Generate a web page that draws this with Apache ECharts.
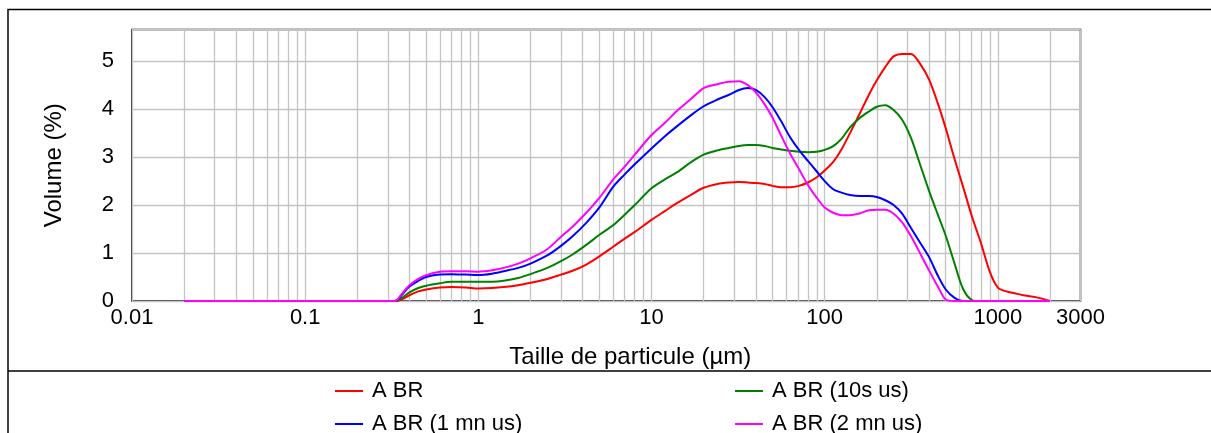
<!DOCTYPE html>
<html>
<head>
<meta charset="utf-8">
<script src="https://cdn.jsdelivr.net/npm/echarts@6/dist/echarts.min.js"></script>
<style>
html,body{margin:0;padding:0;background:#fff;}
#chart{width:1211px;height:433px;}
</style>
</head>
<body>
<div id="chart"></div>
<script>
// Particle sizes (µm)
const sizes = [0.02, 0.33, 0.36, 0.4, 0.45, 0.5, 0.6, 0.7, 0.85, 1.0, 1.2, 1.4, 1.7, 2.0, 2.5, 3.0, 3.5, 4.2, 5.0, 6.0, 7.0, 8.0, 10, 12, 14, 17, 20, 24, 28, 32, 36, 40, 45, 50, 56, 63, 71, 80, 90, 100, 112, 125, 140, 160, 180, 200, 224, 250, 280, 315, 355, 400, 450, 500, 560, 630, 710, 800, 900, 1000, 1120, 1250, 1400, 1600, 1800, 2000];

const seriesNames = ['A BR', 'A BR (10s us)', 'A BR (1 mn us)', 'A BR (2 mn us)'];

const volA_BR = [0, 0, 0.03, 0.12, 0.20, 0.24, 0.28, 0.29, 0.28, 0.26, 0.27, 0.29, 0.33, 0.38, 0.46, 0.55, 0.63, 0.76, 0.93, 1.13, 1.30, 1.44, 1.69, 1.88, 2.04, 2.22, 2.36, 2.44, 2.47, 2.48, 2.47, 2.46, 2.44, 2.40, 2.37, 2.37, 2.40, 2.47, 2.58, 2.72, 2.90, 3.16, 3.50, 3.92, 4.30, 4.60, 4.88, 5.10, 5.15, 5.15, 4.95, 4.62, 4.12, 3.60, 2.98, 2.38, 1.75, 1.20, 0.60, 0.28, 0.20, 0.16, 0.12, 0.09, 0.05, 0];

const volA_BR_10s = [0, 0, 0.06, 0.18, 0.27, 0.32, 0.37, 0.40, 0.40, 0.40, 0.40, 0.42, 0.48, 0.56, 0.69, 0.83, 0.97, 1.17, 1.38, 1.58, 1.80, 2.00, 2.35, 2.54, 2.68, 2.90, 3.05, 3.14, 3.19, 3.23, 3.25, 3.25, 3.23, 3.19, 3.16, 3.13, 3.11, 3.10, 3.11, 3.15, 3.23, 3.38, 3.62, 3.82, 3.95, 4.05, 4.08, 3.98, 3.78, 3.40, 2.85, 2.30, 1.80, 1.36, 0.80, 0.25, 0.02, 0, 0, 0, 0, 0, 0, 0, 0, 0];

const volA_BR_1mn = [0, 0, 0.12, 0.30, 0.42, 0.50, 0.55, 0.56, 0.55, 0.54, 0.57, 0.62, 0.69, 0.78, 0.95, 1.15, 1.35, 1.63, 1.95, 2.38, 2.64, 2.85, 3.18, 3.44, 3.64, 3.88, 4.06, 4.20, 4.30, 4.40, 4.44, 4.40, 4.25, 4.04, 3.75, 3.42, 3.15, 2.92, 2.70, 2.50, 2.33, 2.26, 2.21, 2.19, 2.19, 2.17, 2.10, 2.00, 1.82, 1.52, 1.22, 0.92, 0.53, 0.24, 0.07, 0, 0, 0, 0, 0, 0, 0, 0, 0, 0, 0];

const volA_BR_2mn = [0, 0, 0.14, 0.33, 0.46, 0.54, 0.61, 0.62, 0.62, 0.61, 0.64, 0.69, 0.78, 0.89, 1.08, 1.34, 1.55, 1.84, 2.15, 2.53, 2.80, 3.05, 3.46, 3.72, 3.96, 4.22, 4.44, 4.52, 4.57, 4.58, 4.50, 4.35, 4.10, 3.82, 3.45, 3.08, 2.75, 2.42, 2.15, 1.95, 1.84, 1.79, 1.79, 1.83, 1.89, 1.90, 1.90, 1.82, 1.64, 1.35, 1.00, 0.64, 0.30, 0.03, 0, 0, 0, 0, 0, 0, 0, 0, 0, 0, 0, 0];

const xLabelTicks = [0.01, 0.1, 1, 10, 100, 1000, 3000];
const xGridTicks = [0.01, 0.02, 0.03, 0.04, 0.05, 0.06, 0.07, 0.08, 0.09,
  0.1, 0.2, 0.3, 0.4, 0.5, 0.6, 0.7, 0.8, 0.9,
  1, 2, 3, 4, 5, 6, 7, 8, 9,
  10, 20, 30, 40, 50, 60, 70, 80, 90,
  100, 200, 300, 400, 500, 600, 700, 800, 900,
  1000, 2000, 3000];
const yTicks = [0, 1, 2, 3, 4, 5];

const colors = ['#ff0000', '#008000', '#0000ff', '#ff00ff'];
const allValues = [volA_BR, volA_BR_10s, volA_BR_1mn, volA_BR_2mn];

const FONT = 'Liberation Sans, Arial, sans-serif';
const FS = 22;

const chart = echarts.init(document.getElementById('chart'), null, {renderer: 'canvas'});

const series = seriesNames.map((name, i) => ({
  name: name,
  type: 'line',
  data: sizes.map((s, k) => [s, allValues[i][k]]),
  showSymbol: false,
  symbol: 'none',
  smooth: 0.3,
  lineStyle: {color: colors[i], width: 2},
  itemStyle: {color: colors[i]},
  emphasis: {disabled: true},
  animation: false
}));

const legendCommon = {
  orient: 'vertical',
  top: 380,
  height: 120,
  padding: 0,
  itemWidth: 28,
  itemHeight: 2,
  itemGap: 11,
  icon: 'rect',
  selectedMode: false,
  textStyle: {fontFamily: FONT, fontSize: FS, color: '#000', lineHeight: 22, padding: [0, 0, 0, 4]}
};

chart.setOption({
  animation: false,
  backgroundColor: '#fff',
  color: colors,
  graphic: [
    {type: 'rect', shape: {x: 8, y: 9.5, width: 1300, height: 500}, style: {fill: 'none', stroke: '#000', lineWidth: 1.5}, silent: true},
    {type: 'line', shape: {x1: 8, y1: 371, x2: 1300, y2: 371}, style: {stroke: '#000', lineWidth: 1.5}, silent: true}
  ],
  grid: {
    left: 132, right: 130.5, top: 29.5, bottom: 132,
    show: true, borderColor: '#000', borderWidth: 1.5, backgroundColor: 'transparent'
  },
  legend: [
    Object.assign({left: 335, data: [seriesNames[0], seriesNames[2]]}, legendCommon),
    Object.assign({left: 735, data: [seriesNames[1], seriesNames[3]]}, legendCommon)
  ],
  xAxis: {
    type: 'log',
    logBase: 10,
    min: 0.01,
    max: 3000,
    name: 'Taille de particule (µm)',
    nameLocation: 'middle',
    nameGap: 44,
    nameTextStyle: {fontFamily: FONT, fontSize: 24, color: '#000', padding: [0, 0, 0, 48]},
    axisLine: {show: false},
    axisTick: {show: false, customValues: xGridTicks},
    axisLabel: {
      customValues: xLabelTicks,
      fontFamily: FONT, fontSize: FS, color: '#000', margin: 6,
      formatter: v => String(v)
    },
    splitLine: {show: true, lineStyle: {color: '#c4c4c4', width: 1.3}}
  },
  yAxis: {
    type: 'value',
    min: 0,
    max: 5.66,
    interval: 1,
    name: 'Volume (%)',
    nameLocation: 'middle',
    nameGap: 66,
    nameTextStyle: {fontFamily: FONT, fontSize: 24, color: '#000'},
    axisLine: {show: false},
    axisTick: {show: false},
    axisLabel: {
      fontFamily: FONT, fontSize: FS, color: '#000', margin: 18,
      formatter: v => (yTicks.indexOf(v) >= 0 ? String(v) : '')
    },
    splitLine: {show: true, lineStyle: {color: '#c4c4c4', width: 1.3}}
  },
  series: series
});
</script>
</body>
</html>
